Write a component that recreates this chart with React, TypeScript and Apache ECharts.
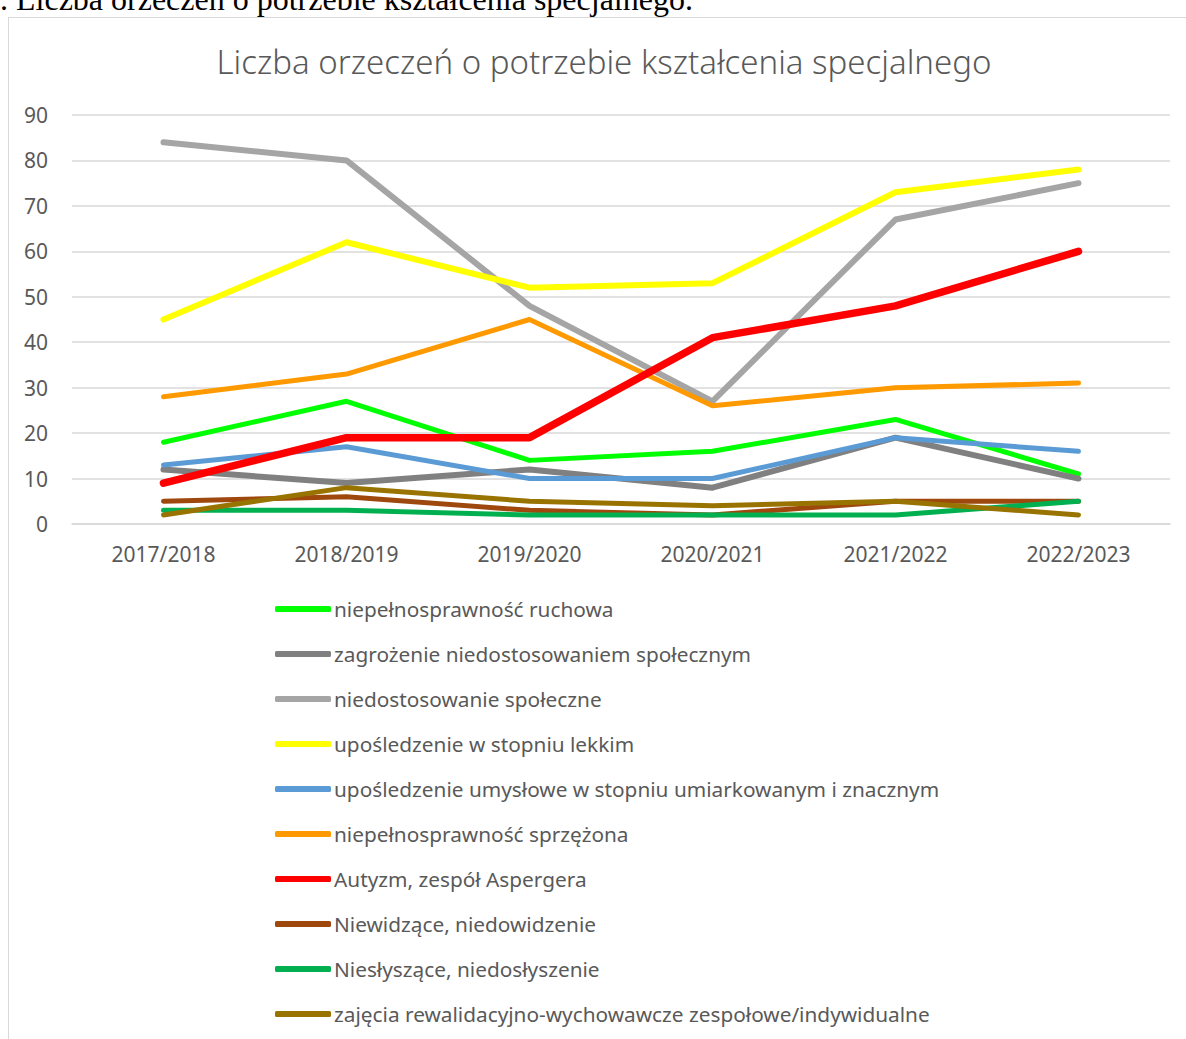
import React, { useEffect, useRef } from "react";
import * as echarts from "echarts";

const categories = ["2017/2018", "2018/2019", "2019/2020", "2020/2021", "2021/2022", "2022/2023"];

const seriesNames = [
  "niepełnosprawność ruchowa",
  "zagrożenie niedostosowaniem społecznym",
  "niedostosowanie społeczne",
  "upośledzenie w stopniu lekkim",
  "upośledzenie umysłowe w stopniu umiarkowanym i znacznym",
  "niepełnosprawność sprzężona",
  "Autyzm, zespół Aspergera",
  "Niewidzące, niedowidzenie",
  "Niesłyszące, niedosłyszenie",
  "zajęcia rewalidacyjno-wychowawcze zespołowe/indywidualne",
];

const ruchowa = [18, 27, 14, 16, 23, 11];
const zagrozenie = [12, 9, 12, 8, 19, 10];
const niedostosowanie = [84, 80, 48, 27, 67, 75];
const lekkim = [45, 62, 52, 53, 73, 78];
const umiarkowanym = [13, 17, 10, 10, 19, 16];
const sprzezona = [28, 33, 45, 26, 30, 31];
const autyzm = [9, 19, 19, 41, 48, 60];
const niewidzace = [5, 6, 3, 2, 5, 5];
const nieslyszace = [3, 3, 2, 2, 2, 5];
const rewalidacyjne = [2, 8, 5, 4, 5, 2];

const seriesValues = [ruchowa, zagrozenie, niedostosowanie, lekkim, umiarkowanym, sprzezona, autyzm, niewidzace, nieslyszace, rewalidacyjne];
const seriesColors = ["#00ff00", "#808080", "#a5a5a5", "#ffff00", "#5b9bd5", "#ff9900", "#ff0000", "#9e480e", "#00b050", "#997300"];
const seriesWidths = [5, 6, 6, 6, 5, 5, 7.5, 5, 5, 5];

const yTicks = [0, 10, 20, 30, 40, 50, 60, 70, 80, 90];

const FONT = "'Noto Sans', sans-serif";

export default function App() {
  const ref = useRef<HTMLDivElement>(null);
  useEffect(() => {
    if (!ref.current) return;
    const chart = echarts.init(ref.current, null, { renderer: "svg" });
    chart.setOption({
      animation: false,
      title: {
        text: "Liczba orzeczeń o potrzebie kształcenia specjalnego",
        left: 599,
        textAlign: "center",
        top: 40,
        textStyle: { fontFamily: FONT, fontWeight: 300, fontSize: 33, color: "#595959" },
      },
      grid: { left: 72, right: 16, top: 115, height: 409, containLabel: false },
      xAxis: {
        type: "category",
        data: categories,
        boundaryGap: true,
        axisLine: { show: true, lineStyle: { color: "#d9d9d9", width: 1.5 } },
        axisTick: { show: false },
        axisLabel: { fontFamily: FONT, fontSize: 21, color: "#595959", margin: 19 },
      },
      yAxis: {
        type: "value",
        min: yTicks[0],
        max: yTicks[yTicks.length - 1],
        interval: 10,
        axisLine: { show: false },
        axisTick: { show: false },
        splitLine: { lineStyle: { color: "#d9d9d9", width: 1.5 } },
        axisLabel: { fontFamily: FONT, fontSize: 21, color: "#595959", margin: 24 },
      },
      legend: {
        orient: "vertical",
        left: 270,
        top: 593,
        itemWidth: 56,
        itemHeight: 6,
        itemGap: 23,
        icon: "roundRect",
        data: seriesNames,
        textStyle: { fontFamily: FONT, fontSize: 20.8, color: "#595959", lineHeight: 22, padding: [0, 0, 0, -2] },
      },
      series: seriesNames.map((name, i) => ({
        name,
        type: "line",
        data: seriesValues[i],
        symbol: "none",
        lineStyle: { color: seriesColors[i], width: seriesWidths[i], cap: "round", join: "round" },
        itemStyle: { color: seriesColors[i] },
      })),
    });
    return () => chart.dispose();
  }, []);

  return (
    <div style={{ position: "fixed", left: 0, top: 0, width: 1186, height: 1039, overflow: "hidden", background: "#fff" }}>
      <div
        style={{
          position: "absolute",
          left: -16,
          top: -19,
          fontFamily: "'Liberation Serif', 'Times New Roman', serif",
          fontSize: 32,
          color: "#000",
          whiteSpace: "nowrap",
        }}
      >
        1. Liczba orzeczeń o potrzebie kształcenia specjalnego.
      </div>
      <div
        style={{
          position: "absolute",
          left: 8,
          top: 17,
          width: 1200,
          height: 1060,
          border: "1.5px solid #d9d9d9",
          boxSizing: "border-box",
        }}
      />
      <div ref={ref} style={{ position: "absolute", left: 0, top: 0, width: 1186, height: 1039 }} />
    </div>
  );
}
